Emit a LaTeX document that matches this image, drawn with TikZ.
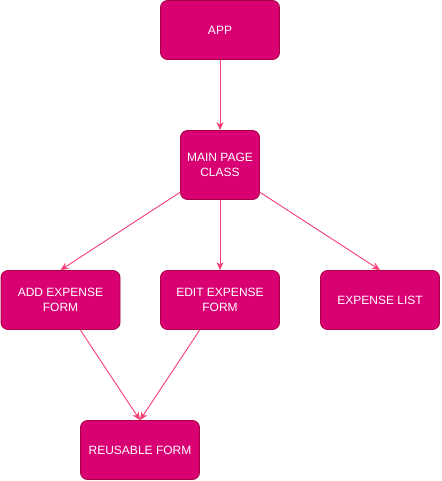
\documentclass[tikz,border=0pt]{standalone}
\usepackage{fontspec}
\setmainfont{Liberation Sans}
\usetikzlibrary{arrows.meta}
\definecolor{boxfill}{HTML}{D80073}
\definecolor{boxline}{HTML}{A50040}
\definecolor{edgecol}{HTML}{F53D72}
\tikzset{
  box/.style={draw=boxline, fill=boxfill, line width=0.8pt, rounded corners=7pt,
    text=white, align=center, font=\fontsize{12}{15}\selectfont, inner sep=0pt},
  edge/.style={draw=edgecol, line width=0.9pt, -{Stealth[length=8pt,width=7pt,inset=2.5pt]}}
}
\begin{document}
\begin{tikzpicture}[x=1pt,y=-1pt]
\useasboundingbox (0,0) rectangle (441,481);
\node[box, minimum width=119pt, minimum height=59pt] (app) at (220,30) {APP};
\node[box, minimum width=79pt, minimum height=69pt] (main) at (220,165) {MAIN PAGE\\CLASS};
\node[box, minimum width=119pt, minimum height=59pt] (add) at (60.5,300) {ADD EXPENSE\\FORM};
\node[box, minimum width=119pt, minimum height=59pt] (edit) at (220,300) {EDIT EXPENSE\\FORM};
\node[box, minimum width=119pt, minimum height=59pt] (list) at (380,300) {EXPENSE LIST};
\node[box, minimum width=119pt, minimum height=59pt] (reuse) at (140,450) {REUSABLE FORM};
\coordinate (mainL) at (180.5,192);
\coordinate (mainR) at (259.5,192);
\coordinate (addB) at (80,329.5);
\coordinate (editB) at (200,329.5);
\path[edge] (app.south) -- (main.north);
\path[edge] (mainL) -- (add.north);
\path[edge] (main.south) -- (edit.north);
\path[edge] (mainR) -- (list.north);
\path[edge] (addB) -- (reuse.north);
\path[edge] (editB) -- (reuse.north);
\end{tikzpicture}
\end{document}
